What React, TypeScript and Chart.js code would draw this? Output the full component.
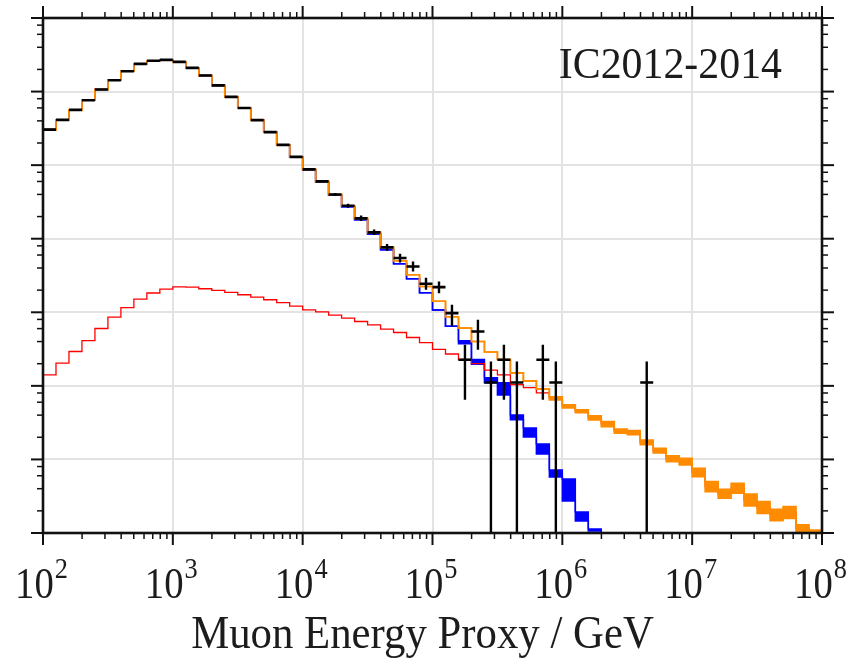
import React, { useEffect, useRef } from 'react';
import { Chart, registerables } from 'chart.js';

Chart.register(...registerables);

// ---- axes / binning ----
const X_MIN = 1e2;
const X_MAX = 1e8;
const Y_MIN = 1e-2;
const Y_MAX = 1e5;
const BIN_LOG_START = 2;
const BINS_PER_DECADE = 10;
const N_BINS = 60;
const binEdges = Array.from({ length: N_BINS + 1 }, (_, i) => Math.pow(10, BIN_LOG_START + i / BINS_PER_DECADE));

const xTickExponents = [2, 3, 4, 5, 6, 7, 8];
const yTickExponents = [-2, -1, 0, 1, 2, 3, 4, 5];
const xMinorMultipliers = [2, 3, 4, 5, 6, 7, 8, 9];
const yMinorMultipliers = [2, 4, 6, 8];
const X_TITLE = 'Muon Energy Proxy / GeV';
const PANEL_LABEL = 'IC2012-2014';

// ---- series (events per bin) ----
const totalHigh = [
  3040, 4120, 5640, 7620, 10650, 14250, 18890, 23820, 26180, 26980,
  25350, 20990, 16500, 12140, 8470, 5970, 4095, 2812, 1883, 1294,
  877, 602, 399, 281, 189, 122, 76.2, 50.2, 32.4, 22.4,
  14.1, 8.69, 6.10, 4.01, 2.88, 2.28, 1.50, 1.17, 0.910, 0.708,
  0.551, 0.472, 0.391, 0.327, 0.258, 0.246, 0.184, 0.142, 0.112, 0.104,
  0.0759, 0.0499, 0.0393, 0.0475, 0.0339, 0.0267, 0.0210, 0.0228, 0.0129, 0.0110,
];
const totalLow = [
  3040, 4120, 5640, 7620, 10650, 14250, 18890, 23820, 26180, 26980,
  25350, 20990, 16500, 12140, 8470, 5970, 4095, 2812, 1883, 1294,
  877, 602, 399, 281, 189, 122, 76.2, 50.2, 32.4, 22.4,
  14.1, 8.69, 6.10, 4.01, 2.88, 2.28, 1.50, 1.17, 0.910, 0.645,
  0.502, 0.433, 0.345, 0.279, 0.227, 0.216, 0.158, 0.122, 0.0934, 0.0842,
  0.0583, 0.0365, 0.0297, 0.0347, 0.0233, 0.0185, 0.0147, 0.0158, 0.0104, 0.0100,
];
const convHigh = [
  3040, 4120, 5640, 7620, 10650, 14250, 18890, 23820, 26180, 26980,
  25350, 20990, 16500, 12140, 8470, 5970, 4095, 2812, 1883, 1294,
  866, 591, 389, 272, 181, 115.5, 70.6, 45.7, 28.6, 18.4,
  10.7, 6.45, 4.10, 2.29, 1.285, 1.098, 0.403, 0.268, 0.1625, 0.0720,
  0.0543, 0.0193, 0.01133, 0, 0, 0, 0, 0, 0, 0,
  0, 0, 0, 0, 0, 0, 0, 0, 0, 0,
];
const convLow = [
  3040, 4120, 5640, 7620, 10650, 14250, 18890, 23820, 26180, 26980,
  25350, 20990, 16500, 12140, 8470, 5970, 4095, 2812, 1883, 1294,
  866, 591, 389, 272, 181, 115.5, 70.6, 45.7, 28.6, 18.4,
  10.7, 6.45, 3.73, 1.96, 1.098, 0.754, 0.345, 0.202, 0.1188, 0.0578,
  0.0273, 0.01457, 0.01064, 0, 0, 0, 0, 0, 0, 0,
  0, 0, 0, 0, 0, 0, 0, 0, 0, 0,
];
const astro = [
  1.41, 2.04, 2.93, 4.13, 6.02, 8.61, 11.6, 15.1, 18.3, 20.7,
  22.2, 22.0, 20.9, 19.8, 18.6, 17.3, 16.1, 14.8, 13.5, 12.1,
  10.8, 10.1, 9.16, 8.34, 7.50, 6.76, 5.91, 5.31, 4.54, 3.88,
  3.14, 2.71, 2.28, 2.00, 1.64, 1.41, 1.04, 0.945, 0.803, 0.672,
  0.526, 0.457, 0.367, 0.304, 0.244, 0.229, 0.170, 0.1305, 0.1016, 0.0934,
  0.0665, 0.0426, 0.0341, 0.0406, 0.0281, 0.0222, 0.0176, 0.0190, 0.0116, 0.0105,
];
const dataCounts = [
  3040, 4120, 5640, 7620, 10650, 14250, 18890, 23820, 26180, 26980,
  25350, 20990, 16500, 12140, 8470, 5970, 4095, 2812, 1883, 1294,
  877, 602, 399, 281, 189, 122, 76.2, 54.6, 42.0, 24.4,
  22.0, 9.75, 2.26, 5.48, 1.11, 2.26, 1.11, null, 2.26, 1.11,
  null, null, null, null, null, null, 1.11, null, null, null,
  null, null, null, null, null, null, null, null, null, null,
];
const dataErrHigh = [
  null, null, null, null, null, null, null, null, null, null,
  null, null, null, null, null, null, null, null, null, null,
  null, null, 418, 299, 206, 133, 84.5, 62.5, 49.1, 29.5,
  26.2, 12.65, 3.61, 7.91, 2.14, 3.61, 2.14, null, 3.61, 2.14,
  null, null, null, null, null, null, 2.14, null, null, null,
  null, null, null, null, null, null, null, null, null, null,
];
const dataErrLow = [
  null, null, null, null, null, null, null, null, null, null,
  null, null, null, null, null, null, null, null, null, null,
  null, null, 381, 264, 174, 112, 68.7, 47.6, 35.9, 20.2,
  18.2, 6.55, 0.645, 3.09, 0, 0.645, 0, null, 0.645, 0,
  null, null, null, null, null, null, 0, null, null, null,
  null, null, null, null, null, null, null, null, null, null,
];

// ---- styling ----
const FONT = '"Liberation Serif", "DejaVu Serif", serif';
const TICK_SX = 0.88;
const TEXT_SX = 0.93;
const ORANGE = '#ff8c00';
const BLUE = '#0000ff';
const RED = '#ff0000';
const GRID = '#e3e3e3';
const INK = '#1c1c1c';
const OFF_AXIS = 1e-5; // empty bins fall below the axis and are clipped

const stepPoints = (vals: number[]) => {
  const pts = vals.map((v, i) => ({ x: binEdges[i], y: v > 0 ? v : OFF_AXIS }));
  const last = vals[N_BINS - 1];
  pts.push({ x: binEdges[N_BINS], y: last > 0 ? last : OFF_AXIS });
  return pts;
};

const buildDataBars = () => {
  const h: { x: number; y: number | null }[] = [];
  const v: { x: number; y: number | null }[] = [];
  dataCounts.forEach((c, i) => {
    if (c == null) return;
    h.push({ x: binEdges[i], y: c }, { x: binEdges[i + 1], y: c }, { x: binEdges[i + 1], y: null });
    const hi = dataErrHigh[i];
    const lo = dataErrLow[i];
    if (hi != null && lo != null) {
      const xc = Math.sqrt(binEdges[i] * binEdges[i + 1]);
      v.push({ x: xc, y: lo > 0 ? lo : OFF_AXIS }, { x: xc, y: hi }, { x: xc, y: null });
    }
  });
  return { h, v };
};

const drawText = (ctx: CanvasRenderingContext2D, text: string, x: number, y: number, size: number, align: CanvasTextAlign, sx: number) => {
  ctx.save();
  ctx.font = `${size}px ${FONT}`;
  ctx.textAlign = align;
  ctx.textBaseline = 'alphabetic';
  ctx.fillStyle = INK;
  ctx.translate(x, y);
  ctx.scale(sx, 1);
  ctx.fillText(text, 0, 0);
  ctx.restore();
};
const textWidth = (ctx: CanvasRenderingContext2D, text: string, size: number, sx: number) => {
  ctx.save();
  ctx.font = `${size}px ${FONT}`;
  const w = ctx.measureText(text).width * sx;
  ctx.restore();
  return w;
};

const decorPlugin = {
  id: 'decor',
  afterDatasetsDraw(chart: any) {
    const { ctx, chartArea, scales } = chart;
    const { left, right, top, bottom } = chartArea;
    const xs = scales.x;
    const ys = scales.y;
    const seg = (x1: number, y1: number, x2: number, y2: number, w: number) => {
      ctx.lineWidth = w;
      ctx.beginPath();
      ctx.moveTo(x1, y1);
      ctx.lineTo(x2, y2);
      ctx.stroke();
    };
    ctx.save();
    ctx.strokeStyle = '#111';
    ctx.lineCap = 'butt';
    // ticks, outward on all four sides
    xTickExponents.forEach((e, k) => {
      const px = xs.getPixelForValue(Math.pow(10, e));
      seg(px, bottom, px, bottom + 12, 2);
      seg(px, top, px, top - 12, 2);
      if (k < xTickExponents.length - 1) {
        xMinorMultipliers.forEach((m) => {
          const p = xs.getPixelForValue(m * Math.pow(10, e));
          seg(p, bottom, p, bottom + 6, 1.5);
          seg(p, top, p, top - 6, 1.5);
        });
      }
    });
    yTickExponents.forEach((e, k) => {
      const py = ys.getPixelForValue(Math.pow(10, e));
      seg(left, py, left - 12, py, 2);
      seg(right, py, right + 12, py, 2);
      if (k < yTickExponents.length - 1) {
        yMinorMultipliers.forEach((m) => {
          const p = ys.getPixelForValue(m * Math.pow(10, e));
          seg(left, p, left - 6, p, 1.5);
          seg(right, p, right + 6, p, 1.5);
        });
      }
    });
    // frame
    ctx.lineWidth = 2.6;
    ctx.strokeRect(left, top, right - left, bottom - top);
    // x tick labels 10^n
    const BASE = 44;
    const EXP = 30;
    xTickExponents.forEach((e) => {
      const px = xs.getPixelForValue(Math.pow(10, e));
      const b = '10';
      const s = String(e);
      const wb = textWidth(ctx, b, BASE, TICK_SX);
      const we = textWidth(ctx, s, EXP, TICK_SX);
      const x0 = px - (wb + we) / 2 - 2;
      drawText(ctx, b, x0, bottom + 65, BASE, 'left', TICK_SX);
      drawText(ctx, s, x0 + wb + 1, bottom + 45, EXP, 'left', TICK_SX);
    });
    // axis title
    drawText(ctx, X_TITLE, (left + right) / 2 - 10, bottom + 115, 46, 'center', TEXT_SX);
    // panel label
    drawText(ctx, PANEL_LABEL, right - 40, top + 60, 45, 'right', TEXT_SX);
    ctx.restore();
  },
};

export default function App() {
  const ref = useRef<HTMLCanvasElement | null>(null);
  useEffect(() => {
    if (!ref.current) return;
    const bars = buildDataBars();
    const lineBase = { stepped: true, pointRadius: 0, tension: 0 } as const;
    const chart = new Chart(ref.current, {
      type: 'line',
      data: {
        datasets: [
          { ...lineBase, label: 'conv high', data: stepPoints(convHigh), borderColor: BLUE, borderWidth: 1.5, fill: false, order: 4 },
          { ...lineBase, label: 'conv low', data: stepPoints(convLow), borderColor: BLUE, borderWidth: 1.5, backgroundColor: BLUE, fill: '-1', order: 4 },
          { ...lineBase, label: 'astro', data: stepPoints(astro), borderColor: RED, borderWidth: 1.3, fill: false, order: 3 },
          { ...lineBase, label: 'total high', data: stepPoints(totalHigh), borderColor: ORANGE, borderWidth: 1.6, fill: false, order: 2 },
          { ...lineBase, label: 'total low', data: stepPoints(totalLow), borderColor: ORANGE, borderWidth: 1.6, backgroundColor: ORANGE, fill: '-1', order: 2 },
          { label: 'data x', data: bars.h, borderColor: '#000', borderWidth: 2.6, pointRadius: 0, fill: false, spanGaps: false, stepped: false, order: 1 },
          { label: 'data y', data: bars.v, borderColor: '#000', borderWidth: 2.4, pointRadius: 0, fill: false, spanGaps: false, stepped: false, order: 1 },
        ],
      },
      options: {
        animation: false,
        responsive: true,
        maintainAspectRatio: false,
        events: [],
        layout: { padding: { top: 18, right: 41, left: 0, bottom: 0 } },
        plugins: { legend: { display: false }, tooltip: { enabled: false }, title: { display: false } },
        scales: {
          x: {
            type: 'logarithmic',
            min: X_MIN,
            max: X_MAX,
            border: { display: false },
            ticks: { display: false },
            grid: { color: GRID, lineWidth: 2, drawTicks: false },
            afterBuildTicks: (s: any) => {
              s.ticks = xTickExponents.map((e) => ({ value: Math.pow(10, e) }));
            },
            afterFit: (s: any) => {
              s.height = 128;
            },
          },
          y: {
            type: 'logarithmic',
            min: Y_MIN,
            max: Y_MAX,
            border: { display: false },
            ticks: { display: false },
            grid: { color: GRID, lineWidth: 2, drawTicks: false },
            afterBuildTicks: (s: any) => {
              s.ticks = yTickExponents.map((e) => ({ value: Math.pow(10, e) }));
            },
            afterFit: (s: any) => {
              s.width = 43;
            },
          },
        },
      } as any,
      plugins: [decorPlugin],
    });
    return () => chart.destroy();
  }, []);
  return (
    <div style={{ position: 'fixed', left: 0, top: 0, width: 863, height: 661, background: '#fff' }}>
      <canvas ref={ref} />
    </div>
  );
}
